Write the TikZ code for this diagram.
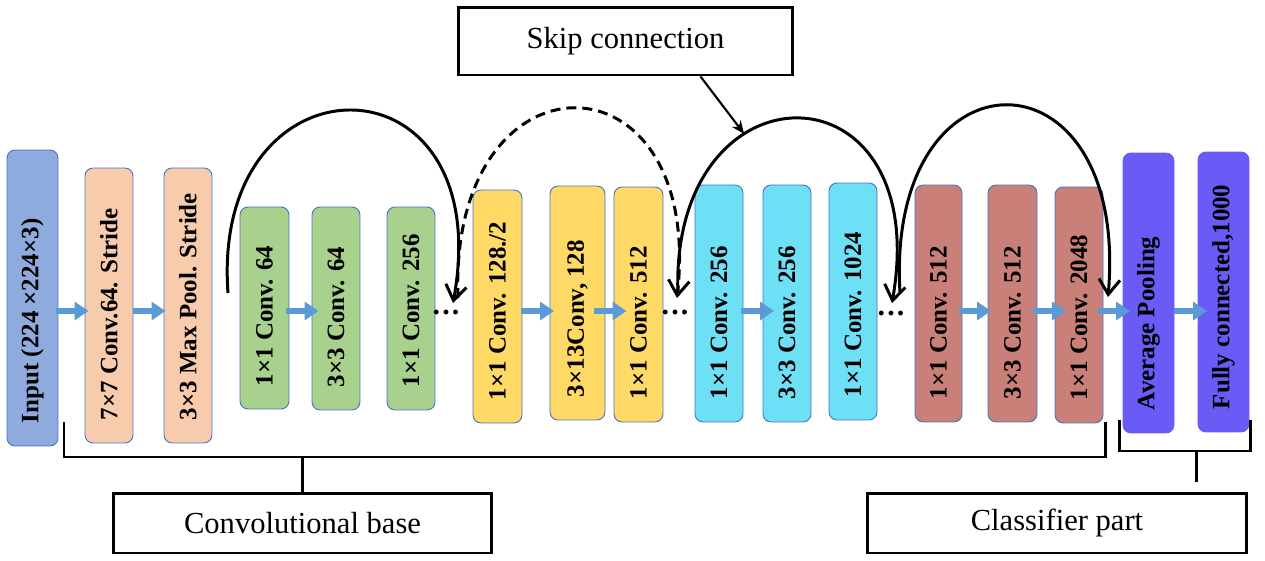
\documentclass[tikz,border=0pt]{standalone}
\usepackage{fontspec}
\setmainfont{Liberation Serif}
\usetikzlibrary{arrows.meta,calc}
\definecolor{boxline}{HTML}{4472C4}
\definecolor{inblue}{HTML}{8FAADC}
\definecolor{peach}{HTML}{F8CBAD}
\definecolor{leaf}{HTML}{A9D18E}
\definecolor{gold}{HTML}{FFD966}
\definecolor{sky}{HTML}{6EE0F6}
\definecolor{brick}{HTML}{C98078}
\definecolor{lilac}{HTML}{6B5BF6}
\definecolor{flowblue}{HTML}{5B9BD5}
\begin{document}
\begin{tikzpicture}[x=0.02cm, y=-0.02cm,
    layer/.style={draw=boxline, line width=0.5pt, rounded corners=0.16cm, minimum width=0.96cm, inner sep=0pt},
    txt/.style={rotate=90, xshift=0.46cm, anchor=west, inner sep=0pt, font=\fontsize{14.2}{16}\selectfont\bfseries},
    flow/.style={draw=flowblue, line width=0.12cm, -{Triangle[length=0.28cm,width=0.36cm]}},
    skip/.style={line width=1.7pt, -{Straight Barb[length=0.3cm,width=0.42cm]}},
    tag/.style={draw, line width=1.7pt, font=\fontsize{17.4}{20}\selectfont},
    bar/.style={line width=1.7pt},
    dots/.style={inner sep=0pt, font=\fontsize{17}{20}\selectfont\bfseries}]
    \useasboundingbox (0,0) rectangle (1265,561);
    \node[layer, fill=inblue, minimum width=1.02cm, minimum height=5.92cm, label={[txt]south:Input (224 ×224×3)}] (input) at (32.5,298) {};
    \node[layer, fill=peach, minimum height=5.5cm, label={[txt]south:7×7 Conv.64. Stride}] (conv7) at (109,305.5) {};
    \node[layer, fill=peach, minimum height=5.5cm, label={[txt]south:3×3 Max Pool. Stride}] (maxpool) at (188,305.5) {};
    \node[layer, fill=leaf, minimum width=0.98cm, minimum height=4.04cm, label={[txt]south:1×1 Conv. 64}] (ga) at (264.5,308) {};
    \node[layer, fill=leaf, minimum height=4.06cm, label={[txt]south:3×3 Conv. 64}] (gb) at (336,308.5) {};
    \node[layer, fill=leaf, minimum height=4.06cm, label={[txt]south:1×1 Conv. 256}] (gc) at (411,308.5) {};
    \node[layer, fill=gold, minimum width=0.98cm, minimum height=4.66cm, label={[txt]south:1×1 Conv. 128./2}] (ya) at (497.5,306.5) {};
    \node[layer, fill=gold, minimum width=1.1cm, minimum height=4.68cm, label={[txt]south:3×13Conv, 128}] (yb) at (577.5,303) {};
    \node[layer, fill=gold, minimum width=0.98cm, minimum height=4.7cm, label={[txt]south:1×1 Conv. 512}] (yc) at (638.5,304.5) {};
    \node[layer, fill=sky, minimum height=4.74cm, label={[txt]south:1×1 Conv. 256}] (ca) at (719,303.5) {};
    \node[layer, fill=sky, minimum height=4.74cm, label={[txt]south:3×3 Conv. 256}] (cb) at (787,303.5) {};
    \node[layer, fill=sky, minimum height=4.74cm, label={[txt]south:1×1 Conv. 1024}] (cc) at (853,301.5) {};
    \node[layer, fill=brick, minimum width=0.94cm, minimum height=4.74cm, label={[txt]south:1×1 Conv. 512}] (ra) at (938.5,303.5) {};
    \node[layer, fill=brick, minimum width=0.98cm, minimum height=4.74cm, label={[txt]south:3×3 Conv. 512}] (rb) at (1012.5,303.5) {};
    \node[layer, fill=brick, minimum height=4.72cm, label={[txt]south:1×1 Conv. 2048}] (rc) at (1079,305) {};
    \node[layer, draw=lilac, fill=lilac, minimum width=1.02cm, minimum height=5.6cm, label={[txt]south:Average Pooling}] (avg) at (1148.5,293) {};
    \node[layer, draw=lilac, fill=lilac, minimum width=1.02cm, minimum height=5.6cm, label={[txt]south:Fully connected,1000}] (fc) at (1223.5,292) {};
    \node[dots] (da) at (446,312) {.\kern1.2pt.\kern1.2pt.};
    \node[dots] (db) at (675,312) {.\kern1.2pt.\kern1.2pt.};
    \node[dots] (dc) at (891,313) {.\kern1.2pt.\kern1.2pt.};
    \coordinate (row) at (0,311);
    \draw[flow] ($(input.east |- row)!0.5!(conv7.west |- row) + (-16,0)$) -- ++(33,0);
    \draw[flow] ($(conv7.east |- row)!0.5!(maxpool.west |- row) + (-16,0)$) -- ++(33,0);
    \draw[flow] ($(ga.east |- row)!0.5!(gb.west |- row) + (-15,0)$) -- ++(33,0);
    \draw[flow] ($(ya.east |- row)!0.5!(yb.west |- row) + (-15,0)$) -- ++(33,0);
    \draw[flow] ($(yb.east |- row)!0.5!(yc.west |- row) + (-16,0)$) -- ++(33,0);
    \draw[flow] ($(ca.east |- row)!0.5!(cb.west |- row) + (-12,0)$) -- ++(33,0);
    \draw[flow] ($(ra.east |- row)!0.5!(rb.west |- row) + (-16,0)$) -- ++(32,0);
    \draw[flow] ($(rb.east |- row)!0.5!(rc.west |- row) + (-13,0)$) -- ++(33,0);
    \draw[flow] ($(rc.east |- row)!0.5!(avg.west |- row) + (-15,0)$) -- ++(32,0);
    \draw[flow] ($(avg.east |- row)!0.5!(fc.west |- row) + (-12,0)$) -- ++(33,0);
    \coordinate (sa) at (228,293);
    \coordinate (ea) at (453,303);
    \coordinate (sb) at (458,298);
    \coordinate (eb) at (677,298);
    \coordinate (sc) at (678,296);
    \coordinate (ec) at (892,303);
    \coordinate (sd) at (900,293);
    \coordinate (ed) at (1108,297);
    \draw[skip] (sa) .. controls (210,48) and (500,48) .. (ea);
    \draw[skip, dash pattern=on 0.2cm off 0.12cm] (sb) .. controls (448,45) and (705,45) .. (eb);
    \draw[skip] (sc) .. controls (668,58) and (935,58) .. (ec) coordinate[pos=0.35] (hit);
    \draw[skip] (sd) .. controls (885,42) and (1130,42) .. (ed);
    \node[tag, minimum width=6.7cm, minimum height=1.36cm] (skipbox) at (625.5,41) {Skip connection};
    \draw[line width=1.2pt, -{Stealth[length=0.26cm,width=0.22cm]}] ([xshift=1.5cm]skipbox.south) -- (hit);
    \node[tag, minimum width=7.58cm, minimum height=1.2cm] (base) at (302.5,523) {Convolutional base};
    \node[tag, minimum width=7.6cm, minimum height=1.2cm] (cls) at (1057,523) {Classifier part};
    \coordinate (baserail) at (0,457);
    \coordinate (clsstem) at (1196,451);
    \draw[bar] (64,422) |- (1105,457) -- (1105,422);
    \draw[bar] (base.north) -- (base.north |- baserail);
    \draw[bar] (1119,420) |- (1250,451) -- (1250,420);
    \draw[bar] (clsstem) -- ++(0,31);
\end{tikzpicture}
\end{document}
